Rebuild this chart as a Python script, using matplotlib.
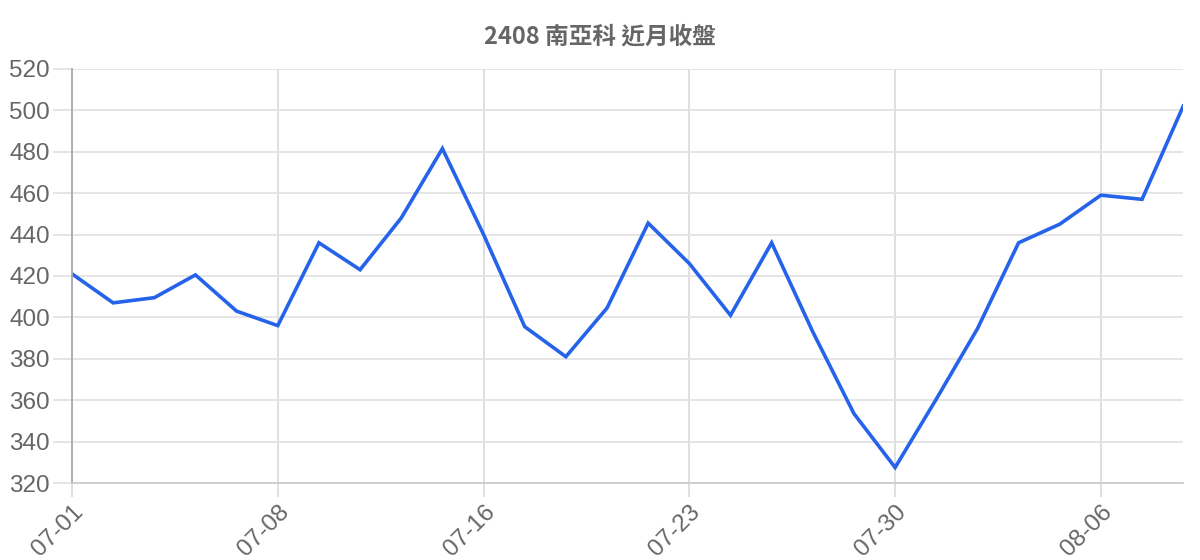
import matplotlib
matplotlib.use("Agg")
import matplotlib.pyplot as plt

# 2408 南亞科 近月收盤
dates = ['07-01', '07-02', '07-03', '07-04', '07-05',
         '07-08', '07-09', '07-10', '07-11', '07-12',
         '07-16', '07-17', '07-18', '07-19', '07-22',
         '07-23', '07-24', '07-25', '07-26', '07-29',
         '07-30', '07-31', '08-01', '08-02', '08-05',
         '08-06', '08-07', '08-08']
close = [421, 407, 409.5, 420.5, 403, 396, 436, 423, 448, 481.5,
         440, 395.5, 381, 404.5, 445.5, 426, 401, 436, 393, 353.5,
         327.5, 360.5, 394.5, 436, 445, 459, 457, 502]
y_ticks = [320, 340, 360, 380, 400, 420, 440, 460, 480, 500, 520]

plt.rcParams['font.family'] = ['Liberation Sans', 'Noto Sans CJK TC', 'DejaVu Sans']

fig = plt.figure(figsize=(12, 5.6), dpi=100)
ax = fig.add_axes([0.06, 0.1375, 0.926, 0.7395])

x = list(range(len(dates)))
ax.plot(x, close, color='#2563eb', linewidth=2.6, solid_joinstyle='miter')

ax.set_xlim(0, len(dates) - 1)
ax.set_ylim(320, 520)
ax.set_yticks(y_ticks)
ax.set_yticklabels([str(v) for v in y_ticks])

label_idx = list(range(0, len(dates), 5))
ax.set_xticks(label_idx)
ax.set_xticklabels([dates[i] for i in label_idx], rotation=45, ha='right',
                   rotation_mode='anchor')

ax.grid(axis='y', color='#e3e3e3', linewidth=1.3)
ax.grid(axis='x', color='#d6d6d6', linewidth=1.1)
ax.set_axisbelow(True)

ax.tick_params(axis='y', length=14, width=1.3, color='#e3e3e3', pad=2,
               labelsize=17.5, labelcolor='#666666')
ax.tick_params(axis='x', length=10, width=1.1, color='#d6d6d6', pad=3,
               labelsize=17.5, labelcolor='#666666')

for side in ['top', 'right']:
    ax.spines[side].set_visible(False)
ax.spines['left'].set_color('#aaaaaa')
ax.spines['left'].set_linewidth(1.3)
ax.spines['bottom'].set_color('#cccccc')
ax.spines['bottom'].set_linewidth(1.3)

fig.text(0.5, 0.935, '2408 南亞科 近月收盤', ha='center', va='center',
         fontsize=17, fontweight='bold', color='#666666',
         family=['Noto Sans CJK TC', 'DejaVu Sans'])

fig.savefig('out.png', dpi=100)
